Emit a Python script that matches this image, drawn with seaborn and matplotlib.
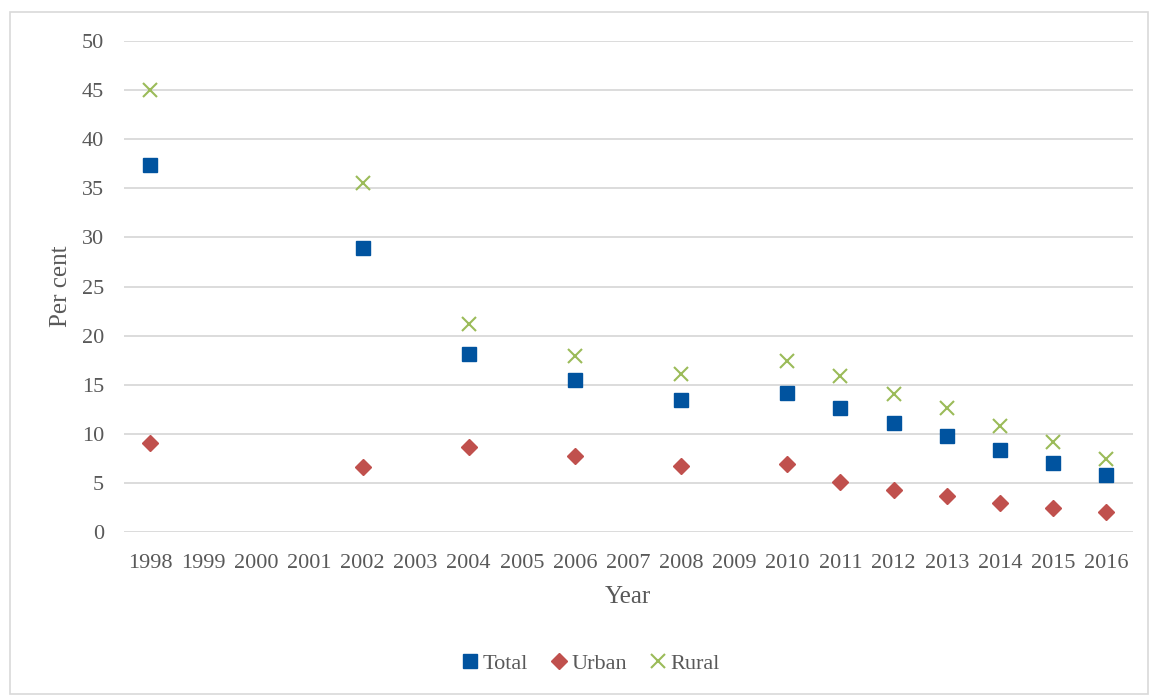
import matplotlib
matplotlib.use("Agg")
import matplotlib.pyplot as plt
import seaborn as sns
import pandas as pd
from matplotlib.patches import Rectangle

sns.set_theme(style="whitegrid")
plt.rcParams['font.family'] = ['Liberation Serif', 'DejaVu Serif']

# categorias do eixo x (todos os anos aparecem, mesmo sem dados)
anos = list(range(1998, 2017))

# anos com observações
anos_dados = [1998, 2002, 2004, 2006, 2008, 2010, 2011, 2012, 2013, 2014, 2015, 2016]
total = [37.4, 28.9, 18.1, 15.5, 13.4, 14.2, 12.6, 11.1, 9.8, 8.4, 7.0, 5.8]
urbano = [9.1, 6.6, 8.7, 7.7, 6.7, 6.9, 5.1, 4.3, 3.7, 3.0, 2.4, 2.0]
rural = [45.0, 35.5, 21.2, 17.9, 16.1, 17.4, 15.9, 14.1, 12.6, 10.8, 9.2, 7.4]

series = [
    ('Total', total, '#00539F', 's', 10, 1.0),
    ('Urban', urbano, '#C0504D', 'D', 8, 1.0),
    ('Rural', rural, '#9BBB59', 'x', 10, 1.5),
]

texto = '#595959'

fig = plt.figure(figsize=(11.49, 6.95), dpi=100)
ax = fig.add_axes([0.1075, 0.2345, 0.8782, 0.7065])

for nome, valores, cor, marcador, tam, esp in series:
    df = pd.DataFrame({'ano': anos_dados, 'valor': valores})
    sns.pointplot(
        data=df, x='ano', y='valor', order=anos, ax=ax,
        color=cor, markers=marcador, linestyles='none', errorbar=None,
        markersize=tam, markeredgewidth=esp, label=nome
    )

ax.set_ylim(0, 50)
ax.set_yticks(range(0, 51, 5))
ax.set_xlim(-0.5, len(anos) - 0.5)
ax.grid(axis='y', color='#D9D9D9', linewidth=1.3)
ax.grid(axis='x', visible=False)
for s in ax.spines.values():
    s.set_visible(False)
ax.tick_params(axis='both', colors=texto, labelsize=16, length=0)
ax.tick_params(axis='x', pad=16)
ax.tick_params(axis='y', pad=14)
ax.set_xlabel('Year', fontsize=18, color=texto, labelpad=9)
ax.set_ylabel('Per cent', fontsize=18, color=texto, labelpad=7)

handles, labels = ax.get_legend_handles_labels()
if ax.get_legend() is not None:
    ax.get_legend().remove()
leg = fig.legend(handles, labels, loc='center', bbox_to_anchor=(0.513, 0.045),
                 ncol=3, frameon=False, fontsize=16, handletextpad=0.05,
                 columnspacing=0.9, handlelength=1.0)
for t in leg.get_texts():
    t.set_color(texto)

# moldura externa
fig.patches.append(Rectangle((10 / 1149, 1 / 695), 1138 / 1149, 682 / 695,
                             transform=fig.transFigure, fill=False,
                             edgecolor='#D9D9D9', linewidth=1.2))

fig.savefig('out.png', dpi=100)
